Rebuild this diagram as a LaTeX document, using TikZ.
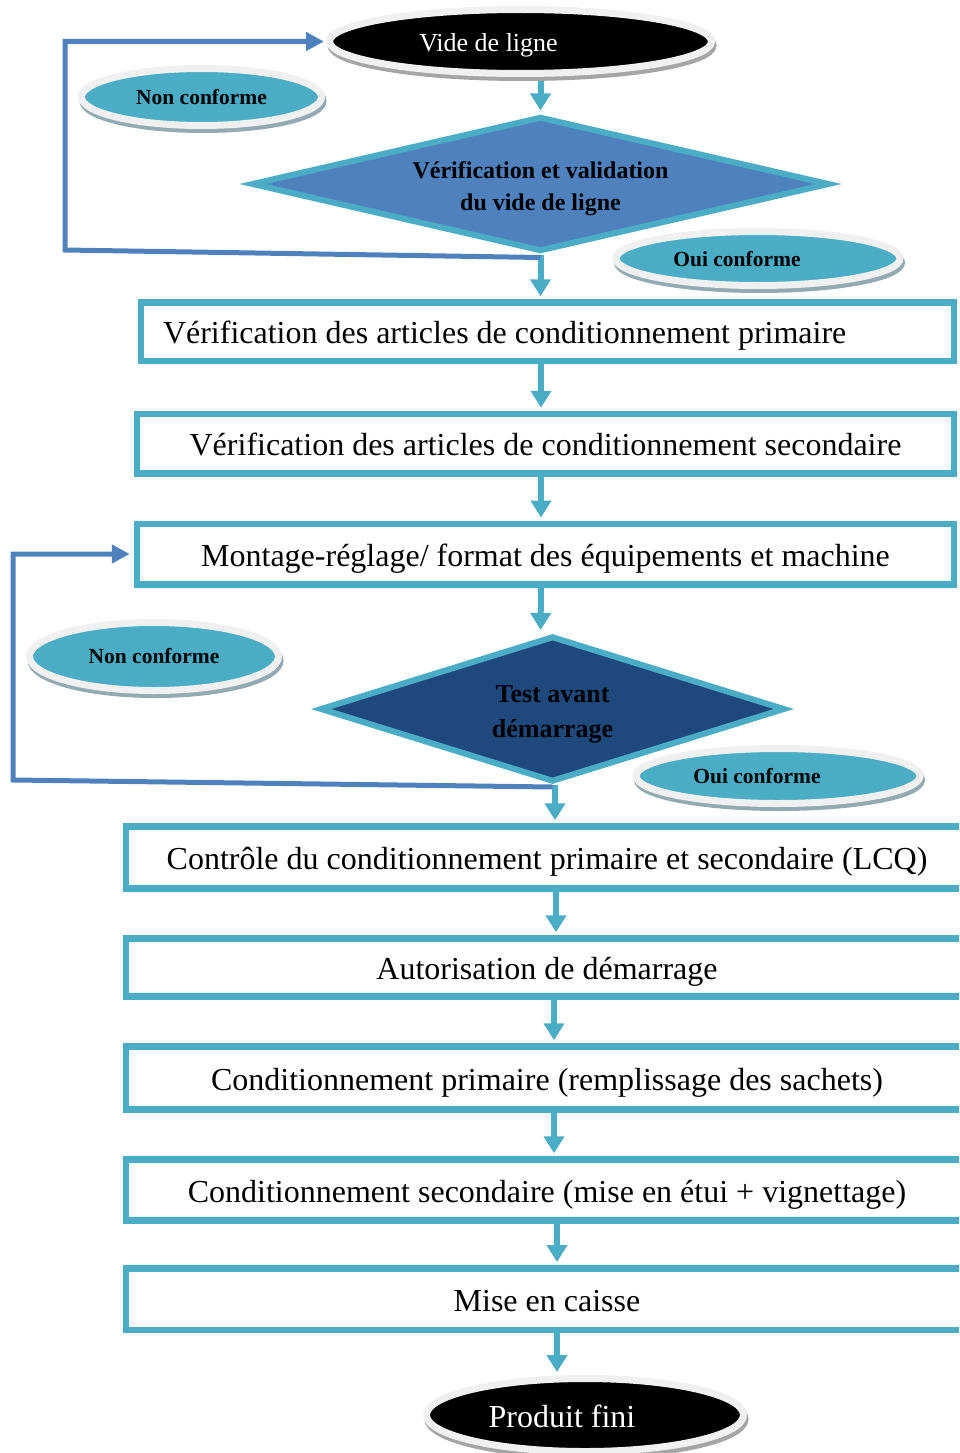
\documentclass[tikz,border=0pt]{standalone}
\usepackage{fontspec}
\setmainfont{Liberation Serif}
\usetikzlibrary{shapes.geometric,arrows.meta,backgrounds}

\definecolor{tealline}{HTML}{4BACC6}
\definecolor{loopblue}{HTML}{4F81BD}
\definecolor{deepblue}{HTML}{1F497D}
\definecolor{ringgray}{HTML}{F0F0F0}
\definecolor{shadowgray}{HTML}{A5A5A5}
\definecolor{shadowteal}{HTML}{93AAB2}

\tikzset{
  flowbox/.style={rectangle, draw=tealline, fill=white, line width=6.5pt,
    inner sep=0pt, text height=30pt, text depth=6pt,
    font=\fontsize{32}{38}\selectfont},
  terminal/.style={ellipse, fill=black, draw=ringgray, line width=7pt,
    text=white, inner sep=0pt,
    preaction={draw=shadowgray, fill=shadowgray, line width=7pt,
      transform canvas={xshift=1.5pt, yshift=-4pt}}},
  verdict/.style={ellipse, fill=tealline, draw=ringgray, line width=7pt,
    inner sep=0pt, font=\bfseries\fontsize{21.5}{26}\selectfont,
    preaction={draw=shadowteal, fill=shadowteal, line width=7pt,
      transform canvas={xshift=1.5pt, yshift=-4pt}}},
  decision/.style={diamond, draw=tealline, line width=6pt, inner sep=0pt,
    align=center},
  flow/.style={draw=tealline, line width=6pt,
    -{Triangle[width=20pt,length=17pt]}, shorten >=3pt},
  loopback/.style={draw=loopblue, line width=5pt,
    -{Triangle[width=18pt,length=18pt]}},
}

\begin{document}
\begin{tikzpicture}[x=1pt, y=-1pt]
\useasboundingbox (0,0) rectangle (959,1453);
\clip (0,0) rectangle (959,1453);

% start and end terminals
\node[terminal, minimum width=382pt, minimum height=64pt,
  text height=26pt, text depth=6pt,
  font=\fontsize{26}{30}\selectfont] (vide) at (520.5,41.5)
  {Vide de ligne\hspace*{64pt}};
\node[terminal, minimum width=317pt, minimum height=73pt,
  text height=30pt, text depth=6pt,
  font=\fontsize{32}{36}\selectfont] (fini) at (585,1415)
  {Produit fini\hspace*{46pt}};

% first decision and its outcomes
\node[decision, fill=loopblue, aspect=4.3, minimum width=578pt,
  minimum height=135pt, font=\bfseries\fontsize{24}{32}\selectfont]
  (d1) at (540.5,184)
  {\rule{0pt}{26pt}Vérification et validation\\du vide de ligne};
\node[verdict, minimum width=240pt, minimum height=57pt] (nc1)
  at (201.5,97) {Non conforme};
\node[verdict, minimum width=284pt, minimum height=54pt,
  text height=17pt, text depth=2pt] (oc1)
  at (758,258.5) {Oui conforme\hspace*{42pt}};

% preparation steps
\node[flowbox, minimum width=813pt, minimum height=58.5pt] (box1)
  at (547.5,331.75)
  {\makebox[769pt][l]{Vérification des articles de conditionnement primaire}};
\node[flowbox, minimum width=817pt, minimum height=59.5pt] (box2)
  at (545.5,443.75) {Vérification des articles de conditionnement secondaire};
\node[flowbox, minimum width=817pt, minimum height=60.5pt] (box3)
  at (545.5,554) {Montage-réglage/ format des équipements et machine};

% second decision and its outcomes
\node[decision, fill=deepblue, aspect=3.2, minimum width=465pt,
  minimum height=146pt, font=\bfseries\fontsize{26}{35}\selectfont]
  (d2) at (552.5,709) {\rule{0pt}{28pt}Test avant\\démarrage};
\node[verdict, minimum width=249pt, minimum height=68pt] (nc2)
  at (154,656.5) {Non conforme};
\node[verdict, minimum width=284pt, minimum height=55pt] (oc2)
  at (778,776) {Oui conforme\hspace*{42pt}};

% production steps
\node[flowbox, minimum width=842pt, minimum height=62pt] (box4)
  at (547,857.5) {Contrôle du conditionnement primaire et secondaire (LCQ)};
\node[flowbox, minimum width=842pt, minimum height=58pt] (box5)
  at (547,967.5) {Autorisation de démarrage};
\node[flowbox, minimum width=842pt, minimum height=63pt] (box6)
  at (547,1078) {Conditionnement primaire (remplissage des sachets)};
\node[flowbox, minimum width=842pt, minimum height=61pt] (box7)
  at (547,1190) {Conditionnement secondaire (mise en étui + vignettage)};
\node[flowbox, minimum width=842pt, minimum height=61.5pt] (box8)
  at (547,1299) {Mise en caisse};

% corners of the two return loops
\coordinate (c1) at (65,250);
\coordinate (c2) at (13,780);

\begin{scope}[on background layer]
  \draw[flow] (d1.north |- vide.south) -- (d1.north);
  \draw[flow] (d1.south) -- ([xshift=-7pt]box1.north);
  \draw[flow] ([xshift=-6.5pt]box1.south) -- ([xshift=-4.5pt]box2.north);
  \draw[flow] ([xshift=-4.5pt]box2.south) -- ([xshift=-4.5pt]box3.north);
  \draw[flow] ([xshift=-4.5pt]box3.south) -- ([xshift=-12pt]d2.north);
  \draw[flow] ([xshift=2.5pt]d2.south) -- ([xshift=8pt]box4.north);
  \draw[flow] ([xshift=9pt]box4.south) -- ([xshift=9pt]box5.north);
  \draw[flow] ([xshift=7pt]box5.south) -- ([xshift=7pt]box6.north);
  \draw[flow] ([xshift=7pt]box6.south) -- ([xshift=7pt]box7.north);
  \draw[flow] ([xshift=10pt]box7.south) -- ([xshift=10pt]box8.north);
  \draw[flow] ([xshift=10pt]box8.south) -- ([xshift=10pt]box8.south |- fini.north);

  \draw[loopback, shorten >=2pt] ([yshift=-3pt]d1.south) -- (c1) |- (vide.west);
  \draw[loopback, shorten >=4pt] ([yshift=-2pt]d2.south) -- (c2) |- (box3.west);
\end{scope}
\end{tikzpicture}
\end{document}
